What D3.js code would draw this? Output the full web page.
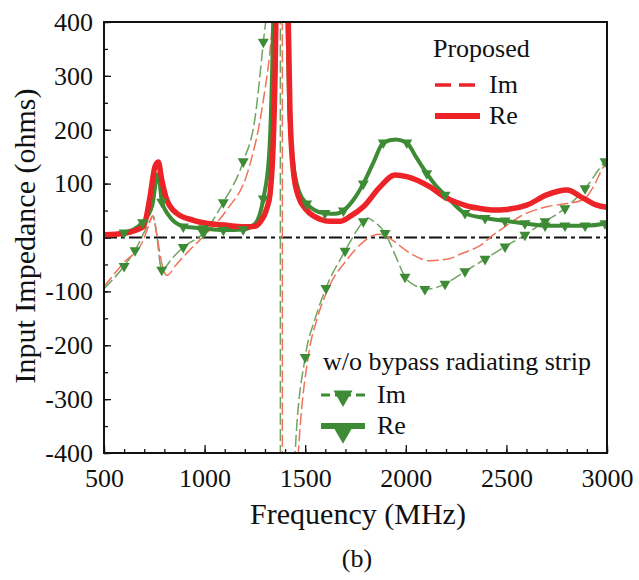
<!DOCTYPE html>
<html>
<head>
<meta charset="utf-8">
<script src="https://cdn.jsdelivr.net/npm/d3@7/dist/d3.min.js"></script>
<style>
body { margin: 0; background: #fff; }
</style>
</head>
<body>
<script>
"use strict";

const WIDTH = 639
const HEIGHT = 580
const plot = { left: 104, right: 607, top: 22, bottom: 453 }
const FONT = "'Liberation Serif', Tinos, 'Nimbus Roman', 'DejaVu Serif', serif"

const red = "#ec2327"
const salmon = "#f0735a"
const green = "#3d8b35"
const pale_green = "#6fa462"

// frequency (MHz), impedance (ohms)
const proposed_re = [[500,5],[600,8],[695,20],[729,76],[753,131],[770,140],[787,107],[812,70],[861,45],[944,32],[1000,27],[1100,23],[1200,20],[1250,21],[1275,28],[1310,55],[1325,80],[1341,175],[1350,300],[1358,500],[1385,3000],[1410,600],[1416,400],[1424,237],[1441,125],[1466,76],[1507,51],[1574,34],[1623,30],[1674,30],[1723,39],[1789,57],[1872,94],[1946,116],[2005,113],[2120,94],[2203,73],[2269,63],[2319,57],[2369,54],[2435,51],[2500,52],[2601,60],[2700,79],[2800,88],[2882,73],[2949,60],[3000,56]]
const proposed_im = [[500,-91],[595,-48],[695,-5],[725,25],[740,40],[750,32],[765,0],[787,-48],[812,-70],[860,-50],[911,-29],[1010,8],[1110,51],[1217,125],[1292,255],[1333,379],[1350,470],[1370,800],[1386,3000],[1387,-3000],[1420,-800],[1466,-400],[1515,-221],[1560,-150],[1623,-88],[1706,-42],[1789,-8],[1839,4],[1870,6],[1900,3],[1955,-11],[2021,-29],[2120,-43],[2220,-39],[2269,-31],[2319,-24],[2369,-15],[2435,5],[2500,22],[2568,39],[2700,57],[2800,63],[2882,70],[2932,94],[2982,131],[3000,140]]

const wo_re = [[500,4],[600,9],[692,28],[740,60],[760,108],[768,118],[775,108],[787,68],[820,42],[894,21],[994,17],[1093,14],[1192,15],[1250,25],[1292,72],[1320,150],[1335,300],[1345,500],[1380,3000],[1405,600],[1412,400],[1420,250],[1440,140],[1470,85],[1507,63],[1550,50],[1598,45],[1650,44],[1690,50],[1740,70],[1789,100],[1840,140],[1888,176],[1950,182],[2005,176],[2050,150],[2104,119],[2150,96],[2195,79],[2294,45],[2394,36],[2493,31],[2592,26],[2692,22],[2791,22],[2891,22],[2990,26],[3000,27]]
const wo_im = [[500,-95],[600,-53],[654,-24],[700,10],[730,32],[745,40],[760,10],[787,-60],[840,-38],[894,-18],[994,8],[1093,65],[1192,141],[1250,220],[1292,363],[1310,430],[1340,700],[1376,3000],[1377,-3000],[1410,-800],[1450,-400],[1500,-222],[1550,-150],[1603,-94],[1698,-25],[1760,15],[1789,30],[1810,36],[1840,30],[1897,8],[1950,-35],[1996,-73],[2050,-90],[2095,-96],[2150,-93],[2195,-86],[2294,-63],[2394,-40],[2493,-17],[2592,5],[2692,30],[2791,54],[2891,91],[2990,141],[3000,145]]

// marker positions of the w/o bypass strip curves
const wo_re_marks = [[600,9],[692,28],[787,66],[894,20],[994,17],[1093,14],[1192,15],[1292,72],[1507,63],[1598,45],[1690,50],[1789,100],[1888,176],[2005,176],[2104,119],[2195,79],[2294,45],[2394,36],[2493,31],[2592,26],[2692,22],[2791,22],[2891,22],[2990,26]]
const wo_im_marks = [[600,-53],[654,-24],[787,-60],[894,-18],[994,8],[1093,65],[1192,141],[1292,363],[1500,-222],[1603,-94],[1698,-25],[1789,30],[1897,8],[1996,-73],[2095,-96],[2195,-86],[2294,-63],[2394,-40],[2493,-17],[2592,5],[2692,30],[2791,54],[2891,91],[2990,141]]

const x_major = [500, 1000, 1500, 2000, 2500, 3000]
const x_minor = d3.range(500, 3001, 100)
const y_major = [-400, -300, -200, -100, 0, 100, 200, 300, 400]
const y_minor = d3.range(-400, 401, 50)

const x = d3.scaleLinear().domain([500, 3000]).range([plot.left, plot.right])
const y = d3.scaleLinear().domain([-400, 400]).range([plot.bottom, plot.top])

const svg = d3.select("body").append("svg")
    .attr("width", WIDTH)
    .attr("height", HEIGHT)
    .style("font-family", FONT)

svg.append("defs").append("clipPath")
    .attr("id", "clip")
    .append("rect")
    .attr("x", plot.left)
    .attr("y", plot.top)
    .attr("width", plot.right - plot.left)
    .attr("height", plot.bottom - plot.top)

// axes: ticks point inward
function style_axis(g) {
    g.attr("font-family", null)
    g.select(".domain").remove()
    g.selectAll("line").attr("stroke", "#111").attr("stroke-width", 1.3)
    g.selectAll("text")
        .attr("font-size", 26)
        .attr("fill", "#111")
        .style("font-family", FONT)
}

svg.append("g")
    .attr("transform", `translate(0,${plot.bottom})`)
    .call(d3.axisBottom(x).tickValues(x_minor).tickSize(-4).tickFormat(""))
    .call(style_axis)
svg.append("g")
    .attr("transform", `translate(0,${plot.bottom})`)
    .call(d3.axisBottom(x).tickValues(x_major).tickSize(-8).tickPadding(16).tickFormat(d3.format("d")))
    .call(style_axis)
svg.append("g")
    .attr("transform", `translate(${plot.left},0)`)
    .call(d3.axisLeft(y).tickValues(y_minor).tickSize(-4).tickFormat(""))
    .call(style_axis)
svg.append("g")
    .attr("transform", `translate(${plot.left},0)`)
    .call(d3.axisLeft(y).tickValues(y_major).tickSize(-7).tickPadding(11).tickFormat(d => String(d)))
    .call(style_axis)

// zero reference
svg.append("line")
    .attr("x1", plot.left).attr("x2", plot.right)
    .attr("y1", y(0)).attr("y2", y(0))
    .attr("stroke", "#111")
    .attr("stroke-width", 2)
    .attr("stroke-dasharray", "13,4,4,4")

const line = d3.line()
    .x(d => x(d[0]))
    .y(d => y(d[1]))
    .curve(d3.curveMonotoneX)

const curves = svg.append("g").attr("clip-path", "url(#clip)")

curves.append("path")
    .datum(wo_im)
    .attr("d", line)
    .attr("fill", "none")
    .attr("stroke", pale_green)
    .attr("stroke-width", 1.5)
    .attr("stroke-dasharray", "12,4")
curves.append("path")
    .datum(proposed_im)
    .attr("d", line)
    .attr("fill", "none")
    .attr("stroke", salmon)
    .attr("stroke-width", 1.5)
    .attr("stroke-dasharray", "12,4")
curves.append("path")
    .datum(wo_re)
    .attr("d", line)
    .attr("fill", "none")
    .attr("stroke", green)
    .attr("stroke-width", 4)
curves.append("path")
    .datum(proposed_re)
    .attr("d", line)
    .attr("fill", "none")
    .attr("stroke", red)
    .attr("stroke-width", 5.5)

function tri(side) {
    return d3.symbol().type(d3.symbolTriangle).size(side * side * Math.sqrt(3) / 4)()
}

curves.selectAll(".mark-im")
    .data(wo_im_marks)
    .join("path")
    .attr("class", "mark-im")
    .attr("d", tri(11))
    .attr("transform", d => `translate(${x(d[0])},${y(d[1])}) rotate(180)`)
    .attr("fill", green)
curves.selectAll(".mark-re")
    .data(wo_re_marks)
    .join("path")
    .attr("class", "mark-re")
    .attr("d", tri(11))
    .attr("transform", d => `translate(${x(d[0])},${y(d[1])}) rotate(180)`)
    .attr("fill", green)

// frame
svg.append("rect")
    .attr("x", plot.left)
    .attr("y", plot.top)
    .attr("width", plot.right - plot.left)
    .attr("height", plot.bottom - plot.top)
    .attr("fill", "none")
    .attr("stroke", "#111")
    .attr("stroke-width", 2)

function label(g, x0, y0, size, txt) {
    return g.append("text")
        .attr("x", x0).attr("y", y0)
        .attr("font-size", size)
        .attr("fill", "#111")
        .style("font-family", FONT)
        .text(txt)
}

// titles
label(svg, 358, 524, 30, "Frequency (MHz)").attr("text-anchor", "middle")
label(svg, 0, 0, 30, "Input Impedance (ohms)")
    .attr("text-anchor", "middle")
    .attr("transform", "translate(35,236) rotate(-90)")
label(svg, 357, 567, 26, "(b)").attr("text-anchor", "middle")

// legend, proposed
const leg = svg.append("g")
label(leg, 433, 57, 26, "Proposed")
leg.append("line")
    .attr("x1", 435).attr("x2", 480).attr("y1", 85).attr("y2", 85)
    .attr("stroke", red).attr("stroke-width", 3.5).attr("stroke-dasharray", "16,8")
label(leg, 489, 93, 26, "Im")
leg.append("line")
    .attr("x1", 435).attr("x2", 480).attr("y1", 116).attr("y2", 116)
    .attr("stroke", red).attr("stroke-width", 6)
label(leg, 489, 124, 26, "Re")

// legend, w/o bypass radiating strip
label(leg, 323, 370, 26, "w/o bypass radiating strip")
leg.append("line")
    .attr("x1", 321).attr("x2", 365).attr("y1", 395).attr("y2", 395)
    .attr("stroke", green).attr("stroke-width", 3).attr("stroke-dasharray", "9,5,16,5,9")
leg.append("path")
    .attr("d", tri(19))
    .attr("transform", "translate(343,396) rotate(180)")
    .attr("fill", green)
label(leg, 377, 403, 26, "Im")
leg.append("line")
    .attr("x1", 321).attr("x2", 365).attr("y1", 426).attr("y2", 426)
    .attr("stroke", green).attr("stroke-width", 6)
leg.append("path")
    .attr("d", tri(24))
    .attr("transform", "translate(343,430) rotate(180)")
    .attr("fill", green)
label(leg, 377, 434, 26, "Re")
</script>
</body>
</html>
